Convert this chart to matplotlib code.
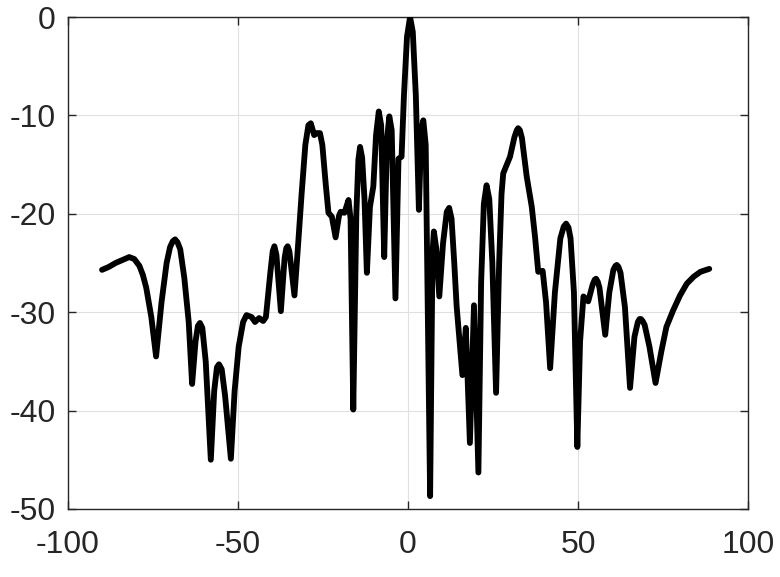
import matplotlib
matplotlib.use('Agg')
import matplotlib.pyplot as plt

# angle (deg) and normalised pattern (dB)
angle = [-90.0, -88.0, -86.0, -84.0, -82.0, -80.5, -79.0, -78.0, -77.0, -75.5, -74.1,
         -72.5, -71.0, -70.0, -69.2, -68.5, -67.8, -67.0, -65.8, -64.5, -63.5,
         -62.5, -61.8, -61.2, -60.5, -59.5, -58.0,
         -57.0, -56.2, -55.6, -54.8, -53.8, -52.1,
         -51.0, -49.8, -48.5, -47.5, -46.0, -45.0, -43.8, -42.6, -41.8,
         -40.5, -39.8, -39.3, -38.7, -37.4, -36.3, -35.8, -35.4, -34.9, -33.4,
         -32.5, -31.3, -30.2, -29.3, -28.6, -27.6, -26.8, -25.9, -25.2,
         -24.2, -23.4, -22.4, -21.3, -20.3, -19.8, -18.7, -17.5, -16.9,
         -16.1, -15.2, -14.6, -14.1, -13.5, -12.8, -12.1, -11.2, -10.2,
         -9.4, -8.6, -7.9, -7.0, -6.2, -5.5, -4.8, -3.7, -2.8, -1.9,
         -1.2, -0.3, 0.6, 1.4, 2.3, 3.2, 3.9, 4.5, 5.2, 6.5, 7.2, 7.6,
         8.3, 9.2, 10.3, 11.4, 12.1, 12.8, 13.6, 14.3, 16.0, 17.0,
         18.2, 19.4, 20.7, 21.5, 22.3, 23.1, 23.9, 24.8, 25.9, 26.8,
         27.5, 28.0, 30.0, 31.3, 32.0, 32.4, 32.9, 33.5, 34.9, 36.4, 37.4, 38.3,
         39.6, 40.6, 41.8, 43.2, 44.8, 45.8, 46.5, 47.2, 47.8, 48.8, 49.8, 50.6,
         51.6, 53.0, 54.3, 54.9, 55.3, 55.8, 56.3, 57.2, 58.0, 59.2, 60.4, 61.0, 61.4,
         61.9, 62.5, 63.8, 65.3, 66.6, 67.6, 68.1, 68.5, 69.0, 69.6, 71.0, 72.8, 74.5,
         76.0, 78.0, 80.0, 82.0, 84.0, 86.0, 88.6]
gain_db = [-25.7, -25.4, -25.0, -24.7, -24.4, -24.6, -25.3, -26.2, -27.5, -30.5, -34.5,
           -29.0, -25.0, -23.4, -22.8, -22.6, -22.9, -23.6, -26.5, -31.0, -37.3,
           -33.0, -31.4, -31.1, -31.6, -35.0, -45.0,
           -38.0, -35.6, -35.3, -35.8, -38.5, -44.9,
           -38.0, -33.5, -31.0, -30.3, -30.5, -31.0, -30.6, -30.9, -30.5,
           -26.0, -23.8, -23.3, -24.2, -29.9, -24.5, -23.5, -23.3, -23.8, -28.3,
           -24.0, -18.0, -13.0, -11.0, -10.8, -12.0, -11.8, -11.8, -13.0,
           -17.0, -19.9, -20.3, -22.4, -20.2, -19.8, -19.9, -18.6, -20.5,
           -39.9, -20.0, -14.5, -13.2, -14.3, -18.5, -26.0, -19.3, -17.2,
           -12.0, -9.6, -11.0, -24.4, -12.5, -10.1, -11.5, -28.6, -14.4, -14.2,
           -8.0, -2.0, 0.0, -1.5, -8.0, -19.6, -11.5, -10.5, -13.0, -48.7, -24.0, -21.8,
           -23.5, -28.4, -23.0, -19.8, -19.4, -20.5, -25.0, -29.4, -36.4, -31.6,
           -43.3, -29.3, -46.3, -27.0, -19.0, -17.1, -18.5, -25.0, -38.2, -25.0,
           -18.0, -15.9, -14.2, -12.2, -11.5, -11.3, -11.5, -12.3, -16.2, -19.3, -22.5, -25.9,
           -25.8, -29.0, -35.7, -28.0, -22.5, -21.3, -21.0, -21.4, -22.5, -28.0, -43.7, -33.0,
           -28.4, -28.9, -27.2, -26.7, -26.6, -26.9, -27.5, -30.0, -32.3, -28.0, -25.7, -25.3, -25.2,
           -25.4, -26.0, -29.5, -37.7, -32.5, -31.0, -30.7, -30.7, -30.9, -31.3, -33.5, -37.2, -34.0,
           -31.5, -29.8, -28.3, -27.1, -26.4, -25.9, -25.6]

x_ticks = [-100, -50, 0, 50, 100]
y_ticks = [-50, -40, -30, -20, -10, 0]

plt.rcParams['font.family'] = ['Liberation Sans', 'DejaVu Sans']
plt.rcParams['axes.unicode_minus'] = False

fig = plt.figure(figsize=(7.8, 5.77), dpi=100)
ax = fig.add_axes([0.0872, 0.118, 0.8718, 0.8525])

ax.plot(angle, gain_db, color='black', linewidth=4.2,
        solid_joinstyle='round', solid_capstyle='round', zorder=3)

ax.set_xlim(-100, 100)
ax.set_ylim(-50, 0)
ax.set_xticks(x_ticks)
ax.set_yticks(y_ticks)
ax.grid(True, color='#e0e0e0', linewidth=0.8)
ax.set_axisbelow(True)

ax.tick_params(direction='in', length=6, width=1, top=True, right=True,
               labelsize=23, labelcolor='#262626', color='#262626')
ax.tick_params(axis='x', pad=15)
ax.tick_params(axis='y', pad=9)
for s in ax.spines.values():
    s.set_color('#262626')
    s.set_linewidth(1)

fig.savefig('out.png', dpi=100)
